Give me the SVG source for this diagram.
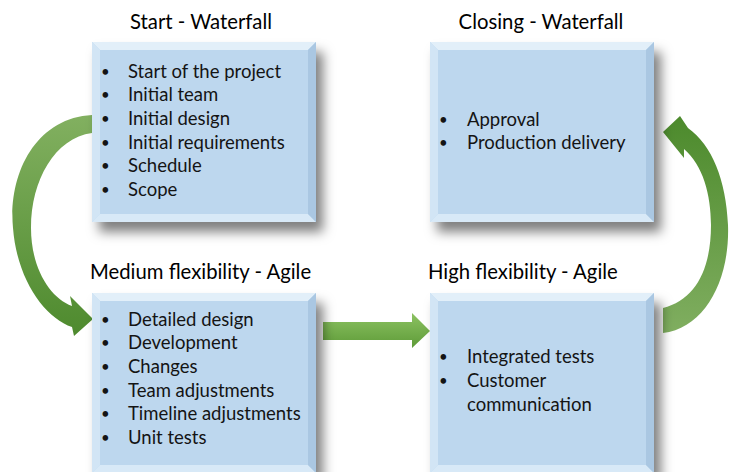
<svg xmlns="http://www.w3.org/2000/svg" width="729" height="472" viewBox="0 0 729 472">
<defs>
<filter id="sh" x="-10%" y="-10%" width="135%" height="135%">
<feDropShadow dx="7" dy="10" stdDeviation="6" flood-color="#000" flood-opacity="0.5"/>
</filter>
<linearGradient id="gl" x1="0" y1="0" x2="0" y2="1">
<stop offset="0" stop-color="#82b060"/>
<stop offset="1" stop-color="#4e8a2e"/>
</linearGradient>
<linearGradient id="gr" x1="0" y1="1" x2="0" y2="0">
<stop offset="0" stop-color="#80ae60"/>
<stop offset="1" stop-color="#4c8a2c"/>
</linearGradient>
<linearGradient id="gs" x1="0" y1="0" x2="0" y2="1">
<stop offset="0" stop-color="#8cc262"/>
<stop offset="1" stop-color="#5e9b38"/>
</linearGradient>
<g id="box">
<rect x="0" y="0" width="224" height="180" fill="#bdd7ee"/>
<polygon points="0,0 224,0 216,8 8,8" fill="#e2eff9"/>
<polygon points="0,0 8,8 8,172 0,180" fill="#d2e5f5"/>
<polygon points="0,180 8,172 216,172 224,180" fill="#d8e9f7"/>
<polygon points="224,0 216,8 216,172 224,180" fill="#aac7e2"/>
</g>
</defs>
<style>
.t{font-family:Lato,"Liberation Sans",sans-serif;font-size:20.3px;fill:#000}
.b{font-family:Lato,"Liberation Sans",sans-serif;font-size:18.5px;fill:#141414}
.d{font-family:Lato,"Liberation Sans",sans-serif;font-size:15px;fill:#141414}
</style>
<rect width="729" height="472" fill="#fff"/>
<g id="connectors">
<path d="M92,115 C35,118 8,175 13,228 C17,280 45,318 72,327 L74,336 L93,319 L70,296 L72,306 C50,298 31,268 31,228 C31,180 55,138 92,133 Z" fill="url(#gl)"/>
<path d="M663,333 C705,328 730,280 728,225 C726,180 712,145 688,128 L680,116 L663,132 L684,158 L684,149 C703,165 711,195 711,225 C711,270 695,300 663,308 Z" fill="url(#gr)"/>
<path d="M323,322 L412,322 L412,313 L430,331 L412,348 L412,340 L323,340 Z" fill="url(#gs)"/>
</g>
<g id="n1">
<text class="t" x="201" y="29" text-anchor="middle">Start - Waterfall</text>
<use href="#box" x="92" y="42" filter="url(#sh)"/>
<text class="d" x="101" y="77">•</text><text class="b" x="128" y="78">Start of the project</text>
<text class="d" x="101" y="100">•</text><text class="b" x="128" y="101">Initial team</text>
<text class="d" x="101" y="124">•</text><text class="b" x="128" y="125">Initial design</text>
<text class="d" x="101" y="148">•</text><text class="b" x="128" y="149">Initial requirements</text>
<text class="d" x="101" y="171">•</text><text class="b" x="128" y="172">Schedule</text>
<text class="d" x="101" y="195">•</text><text class="b" x="128" y="196">Scope</text>
</g>
<g id="n2">
<text class="t" x="541" y="29" text-anchor="middle">Closing - Waterfall</text>
<use href="#box" x="430" y="42" filter="url(#sh)"/>
<text class="d" x="439" y="125">•</text><text class="b" x="467" y="126">Approval</text>
<text class="d" x="439" y="148">•</text><text class="b" x="467" y="149">Production delivery</text>
</g>
<g id="n3">
<text class="t" x="90" y="279">Medium flexibility - Agile</text>
<use href="#box" x="92" y="293" filter="url(#sh)"/>
<text class="d" x="101" y="325">•</text><text class="b" x="128" y="326">Detailed design</text>
<text class="d" x="101" y="348">•</text><text class="b" x="128" y="349">Development</text>
<text class="d" x="101" y="372">•</text><text class="b" x="128" y="373">Changes</text>
<text class="d" x="101" y="396">•</text><text class="b" x="128" y="397">Team adjustments</text>
<text class="d" x="101" y="419">•</text><text class="b" x="128" y="420">Timeline adjustments</text>
<text class="d" x="101" y="443">•</text><text class="b" x="128" y="444">Unit tests</text>
</g>
<g id="n4">
<text class="t" x="428" y="279">High flexibility - Agile</text>
<use href="#box" x="430" y="293" filter="url(#sh)"/>
<text class="d" x="439" y="362">•</text><text class="b" x="467" y="363">Integrated tests</text>
<text class="d" x="439" y="386">•</text><text class="b" x="467" y="387">Customer</text>
<text class="b" x="467" y="411">communication</text>
</g>
</svg>
